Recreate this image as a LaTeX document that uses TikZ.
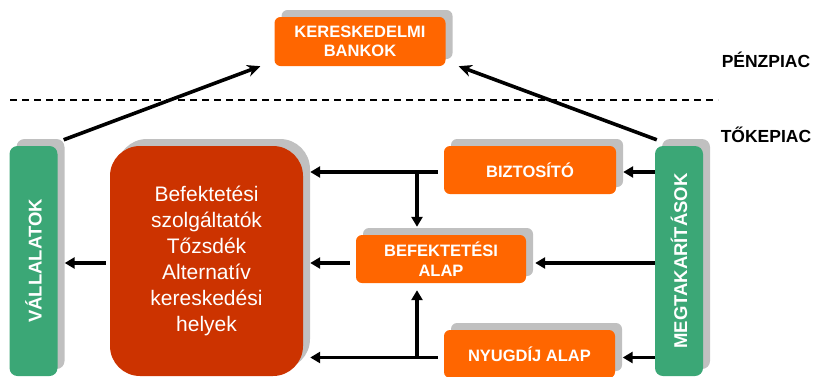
\documentclass[tikz,border=0pt]{standalone}
\usepackage{fontspec}
\setmainfont{Liberation Sans}
\usetikzlibrary{arrows.meta,shadows}
\definecolor{orng}{HTML}{FF6600}
\definecolor{grn}{HTML}{3BA776}
\definecolor{rd}{HTML}{CC3300}
\definecolor{shd}{HTML}{C0C0C0}
\tikzset{
  shadowed/.style={general shadow={fill=shd, shadow xshift=7pt, shadow yshift=7pt}},
  obox/.style={shadowed, fill=orng, rounded corners=6pt, inner sep=0pt, align=center,
    text=white, font=\fontsize{16.5}{19.5}\selectfont\bfseries},
  gbar/.style={shadowed, fill=grn, rounded corners=8pt, inner sep=0pt,
    text=white, font=\fontsize{18.5}{20}\selectfont\bfseries,
    minimum width=48pt, minimum height=230pt},
  rbox/.style={shadowed, fill=rd, rounded corners=30pt, inner sep=0pt, align=center,
    text=white, font=\fontsize{21}{26}\selectfont,
    minimum width=193pt, minimum height=230pt},
  mkt/.style={font=\fontsize{17.5}{20}\selectfont\bfseries, text=black, inner sep=0pt},
  arr/.style={line width=3.6pt, -{Triangle[length=10pt,width=11pt]}},
  darr/.style={line width=3.6pt, -{Stealth[length=13pt,width=12pt]}},
  lin/.style={line width=3.6pt}
}
\begin{document}
\begin{tikzpicture}[x=1pt,y=-1pt]
\useasboundingbox (0,0) rectangle (817,376);
% nodes
\node[obox, minimum width=171pt, minimum height=49pt] (bank) at (360,41.5) {KERESKEDELMI\\BANKOK};
\node[mkt] (penz) at (766,60) {PÉNZPIAC};
\node[mkt] (toke) at (766,135) {TŐKEPIAC};
\coordinate (dl) at (10,100);
\coordinate (dr) at (718,100);
\draw[line width=1.8pt, dash pattern=on 7pt off 5pt] (dl) -- (dr);

\node[gbar] (vall) at (33.5,261) {\rotatebox{90}{VÁLLALATOK}};
\node[rbox] (red) at (206.5,261) {Befektetési\\szolgáltatók\\Tőzsdék\\Alternatív\\kereskedési\\helyek};
\node[obox, minimum width=172pt, minimum height=48pt] (bizt) at (530,170) {BIZTOSÍTÓ};
\node[obox, minimum width=170pt, minimum height=48pt] (bef) at (441,259) {BEFEKTETÉSI\\ALAP};
\node[obox, minimum width=171pt, minimum height=48pt] (nyug) at (529.5,354) {NYUGDÍJ ALAP};
\node[gbar] (megt) at (679,261) {\rotatebox{90}{MEGTAKARÍTÁSOK}};

% row coordinates
\coordinate (r1) at (0,172);
\coordinate (r2) at (0,263);
\coordinate (r3) at (0,357.5);
\coordinate (jx) at (417,0);

% connectors
\draw[arr] (megt.west |- r1) -- ([xshift=7pt]bizt.east |- r1);
\draw[arr] (megt.west |- r2) -- ([xshift=9pt]bef.east |- r2);
\draw[arr] (megt.west |- r3) -- ([xshift=7.5pt]nyug.east |- r3);

\draw[arr] ([xshift=-6pt]bizt.west |- r1) -- ([xshift=7pt]red.east |- r1);
\draw[arr] (jx |- r1) -- ([yshift=8pt]jx |- bef.north);
\draw[arr] ([xshift=-6pt]bef.west |- r2) -- ([xshift=7pt]red.east |- r2);
\draw[arr] ([xshift=-6pt]nyug.west |- r3) -- ([xshift=7pt]red.east |- r3);
\draw[arr] (jx |- r3) -- ([yshift=-7pt]jx |- bef.south);

\draw[arr] ([xshift=-4pt]red.west |- r2) -- ([xshift=7pt]vall.east |- r2);

\draw[darr] ([shift={(6pt,6pt)}]vall.north east) -- ([xshift=-14pt]bank.south west);
\draw[darr] ([shift={(2pt,6pt)}]megt.north west) -- ([xshift=13pt]bank.south east);
\end{tikzpicture}
\end{document}
